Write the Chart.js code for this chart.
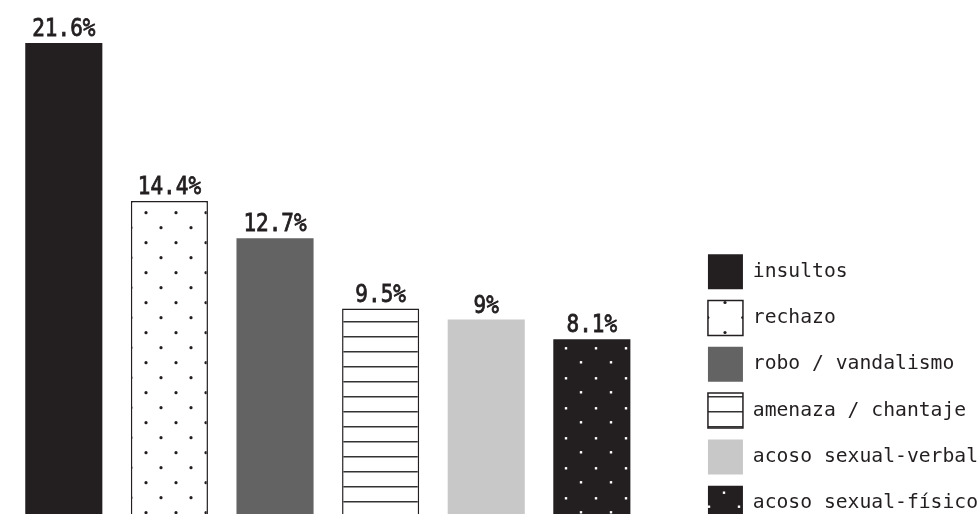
<!DOCTYPE html>
<html>
<head>
<meta charset="utf-8">
<script src="https://cdn.jsdelivr.net/npm/chart.js@4/dist/chart.umd.min.js"></script>
<style>
  html, body { margin: 0; padding: 0; background: #fff; overflow: hidden; }
  /* chart is a bit taller than the window: bars and last legend row run off the bottom */
  #wrap { position: relative; width: 980px; height: 532px; }
</style>
</head>
<body>
<div id="wrap"><canvas id="myChart"></canvas></div>
<script>
const categories = ['insultos', 'rechazo', 'robo / vandalismo', 'amenaza / chantaje', 'acoso sexual-verbal', 'acoso sexual-físico'];
const values = [21.6, 14.4, 12.7, 9.5, 9, 8.1];
const valueLabels = ['21.6%', '14.4%', '12.7%', '9.5%', '9%', '8.1%'];

const ink = '#231f20';
const ctx = document.getElementById('myChart').getContext('2d');

function makePattern(w, h, draw) {
  const c = document.createElement('canvas');
  c.width = w; c.height = h;
  draw(c.getContext('2d'));
  return ctx.createPattern(c, 'repeat');
}

function dotTile(w, h, bg, fg, pts, square) {
  return makePattern(w, h, g => {
    g.fillStyle = bg;
    g.fillRect(0, 0, w, h);
    g.fillStyle = fg;
    pts.forEach(p => {
      if (square) { g.fillRect(p[0] - 1.2, p[1] - 1.2, 2.4, 2.4); return; }
      g.beginPath(); g.arc(p[0], p[1], 1.6, 0, Math.PI * 2); g.fill();
    });
  });
}

// bar fills
const dots = dotTile(30, 30, '#fff', ink, [[26, 2.7], [11, 17.7]]);
const blackDots = dotTile(30, 30, ink, '#fff', [[26, 18.3], [11, 2.3]], true);
const rules = makePattern(10, 15, g => {
  g.fillStyle = '#fff';
  g.fillRect(0, 0, 10, 15);
  g.fillStyle = '#333';
  g.fillRect(0, 6, 10, 1.5);
});

// legend swatches use their own, coarser tiles
const dotsKey = dotTile(35, 30, '#fff', ink, [[25, 2.5], [7.8, 17.5]]);
const blackDotsKey = dotTile(30, 30, ink, '#fff', [[4, 12.7], [19, 26.7]], true);

const fills = [ink, dots, '#636363', rules, '#c8c8c8', blackDots];
const keyFills = [ink, dotsKey, '#636363', rules, '#c8c8c8', blackDotsKey];
const borders = [ink, ink, '#636363', ink, '#c8c8c8', ink];
const borderWidths = [0, 1.5, 0, 1.5, 0, 0];

const barLabels = {
  id: 'barLabels',
  afterDatasetsDraw(chart) {
    const c = chart.ctx;
    const meta = chart.getDatasetMeta(0);
    c.save();
    c.fillStyle = ink;
    c.strokeStyle = ink;
    c.lineWidth = 0.7;
    c.font = '21px "DejaVu Sans Mono"';
    c.textAlign = 'center';
    c.textBaseline = 'alphabetic';
    meta.data.forEach((bar, i) => {
      c.save();
      c.translate(bar.x, bar.y - 7);
      c.scale(1, 1.2);
      c.fillText(valueLabels[i], 0, 0);
      c.strokeText(valueLabels[i], 0, 0);
      c.restore();
    });
    c.restore();
  }
};

Chart.defaults.font.family = '"DejaVu Sans Mono", monospace';
Chart.defaults.color = ink;

new Chart(ctx, {
  type: 'bar',
  data: {
    labels: categories,
    datasets: [{
      data: values,
      backgroundColor: fills,
      borderColor: borders,
      borderWidth: borderWidths,
      barPercentage: 0.73,
      categoryPercentage: 1
    }]
  },
  options: {
    responsive: true,
    maintainAspectRatio: false,
    animation: false,
    devicePixelRatio: 1,
    layout: { padding: { left: 11, right: -8, top: 0, bottom: 0 } },
    plugins: {
      tooltip: { enabled: false },
      legend: {
        position: 'right',
        align: 'end',
        maxWidth: 320,
        labels: {
          boxWidth: 35,
          boxHeight: 35,
          padding: 11.3,
          font: { size: 19.7 },
          color: ink,
          generateLabels: chart => categories.map((c, i) => ({
            text: c,
            fillStyle: keyFills[i],
            strokeStyle: borders[i],
            lineWidth: borderWidths[i],
            fontColor: ink,
            hidden: false,
            index: i
          }))
        }
      }
    },
    scales: {
      x: { display: false },
      y: {
        position: 'right',
        min: -0.68,
        max: 23.56,
        grid: { display: false },
        border: { display: false },
        ticks: { display: false },
        afterFit: scale => { scale.width = 52; }
      }
    }
  },
  plugins: [barLabels]
});
</script>
</body>
</html>
